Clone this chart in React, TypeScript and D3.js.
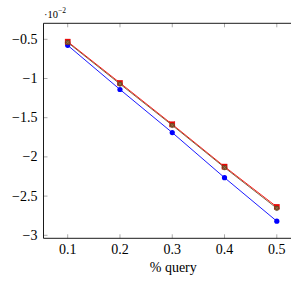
import React from "react";
import * as d3 from "d3";

const xs = [0.1, 0.2, 0.3, 0.4, 0.5];
const blueVals = [-0.577, -1.14, -1.69, -2.265, -2.82];
const redVals = [-0.53, -1.056, -1.585, -2.124, -2.637];
const brownVals = [-0.54, -1.07, -1.597, -2.136, -2.655];
const yTicks = [-0.5, -1, -1.5, -2, -2.5, -3];
const xTicks = [0.1, 0.2, 0.3, 0.4, 0.5];

const FONT = "Liberation Serif";
const FS = 14;

const App: React.FC = () => {
  const left = 43.5;
  const right = 300;
  const top = 23.3;
  const bottom = 238.3;

  const xScale = d3.scaleLinear().domain([0.1, 0.5]).range([67.7, 276.8]);
  const yScale = d3.scaleLinear().domain([-0.5, -3]).range([39.3, 235.3]);

  const line = d3
    .line<number>()
    .x((_, i) => xScale(xs[i]))
    .y((d) => yScale(d));

  const k = 1.4;

  return (
    <svg
      width={291}
      height={281}
      style={{ position: "absolute", left: 0, top: 0, background: "#fff" }}
    >
      {xTicks.map((t) => (
        <g key={"x" + t}>
          <line x1={xScale(t)} x2={xScale(t)} y1={bottom} y2={bottom - 4} stroke="#aaa" />
          <line x1={xScale(t)} x2={xScale(t)} y1={top} y2={top + 4} stroke="#aaa" />
          <text x={xScale(t)} y={bottom + 15.7} textAnchor="middle" fontFamily={FONT} fontSize={FS}>
            {String(t)}
          </text>
        </g>
      ))}
      {yTicks.map((t) => (
        <g key={"y" + t}>
          <line x1={left} x2={left + 4} y1={yScale(t)} y2={yScale(t)} stroke="#aaa" />
          <text x={left - 6} y={yScale(t) + 4.5} textAnchor="end" fontFamily={FONT} fontSize={FS}>
            {String(t).replace("-", "\u2212")}
          </text>
        </g>
      ))}

      <path
        d={`M${right},${top}H${left}V${bottom}H${right}`}
        fill="none"
        stroke="#000"
        strokeWidth={0.9}
      />

      <text x={44} y={18.3} fontFamily={FONT} fontSize={10.5}>
        {"\u00b710"}
        <tspan dy={-5} fontSize={7.5}>
          {"\u22122"}
        </tspan>
      </text>

      <text x={xScale(0.3) + 1} y={272} textAnchor="middle" fontFamily={FONT} fontSize={FS}>
        % query
      </text>

      {/* blue */}
      <path d={line(blueVals) || ""} fill="none" stroke="#0000ff" strokeWidth={0.9} />
      {blueVals.map((d, i) => (
        <circle key={"b" + i} cx={xScale(xs[i])} cy={yScale(d)} r={2.6} fill="#0000ff" />
      ))}

      {/* red */}
      <path d={line(redVals) || ""} fill="none" stroke="#ff0000" strokeWidth={0.9} />
      {redVals.map((d, i) => (
        <rect
          key={"r" + i}
          x={xScale(xs[i]) - 2.6}
          y={yScale(d) - 2.6}
          width={5.2}
          height={5.2}
          fill="#ff0000"
          stroke="#cc0000"
          strokeWidth={0.4}
        />
      ))}

      {/* brown */}
      <path d={line(brownVals) || ""} fill="none" stroke="#734d26" strokeWidth={0.9} />
      {brownVals.map((d, i) => {
        const cx = xScale(xs[i]);
        const cy = yScale(d);
        return (
          <g key={"w" + i}>
            <circle cx={cx} cy={cy} r={2.4} fill="#734d26" stroke="#5c3d1e" strokeWidth={0.4} />
            <path
              d={`M${cx - k},${cy - k}L${cx + k},${cy + k}M${cx - k},${cy + k}L${cx + k},${cy - k}`}
              stroke="#b08060"
              strokeWidth={0.5}
            />
          </g>
        );
      })}
    </svg>
  );
};

export default App;
